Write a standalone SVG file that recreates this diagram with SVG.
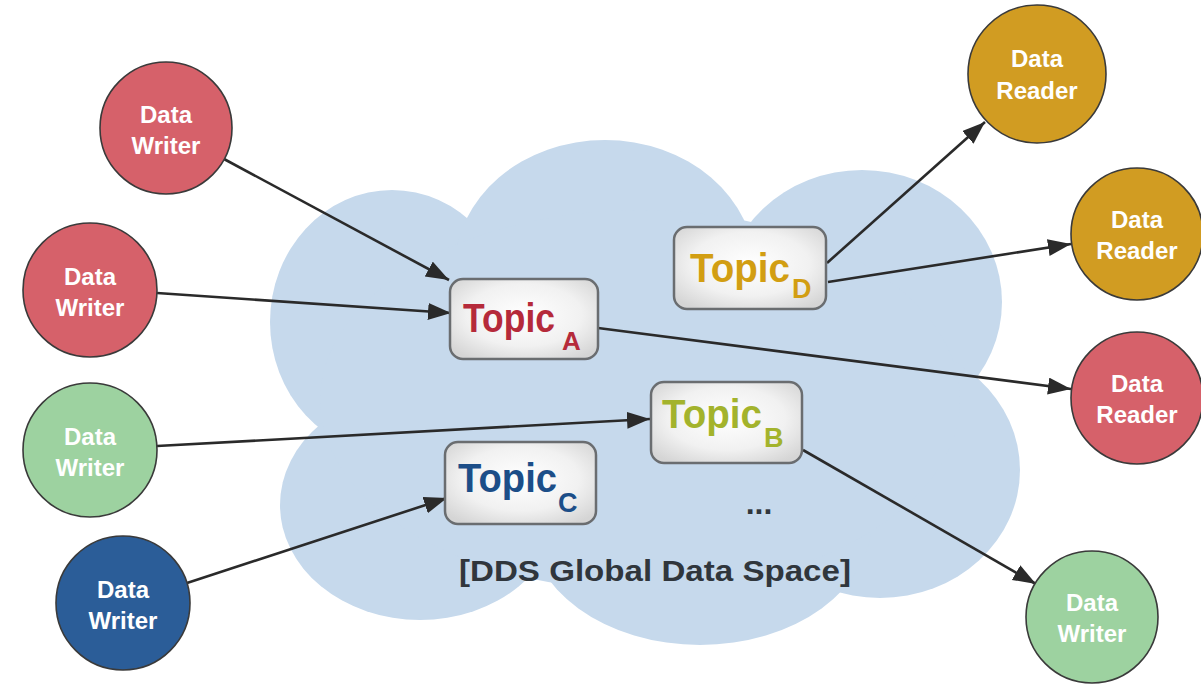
<svg xmlns="http://www.w3.org/2000/svg" width="1201" height="684" viewBox="0 0 1201 684">
<style>
.circ{stroke:#3a3a3a;stroke-width:1.6}
.red{fill:#d6616a}
.green{fill:#9dd2a0}
.blue{fill:#2b5d98}
.gold{fill:#d19c22}
.lbl{font-family:"Liberation Sans",Arial,sans-serif;font-weight:bold;font-size:24px;fill:#ffffff;text-anchor:middle}
.box{fill:url(#boxg);stroke:#6a6d70;stroke-width:2.5}
.tp{font-family:"Liberation Sans",Arial,sans-serif;font-weight:bold}
.conn{stroke:#2a2a2a;stroke-width:2.6;fill:none;marker-end:url(#ah)}
.cloud{fill:#c6d9ec}
</style>
<defs>
<radialGradient id="boxg" cx="50%" cy="45%" r="65%">
<stop offset="0" stop-color="#ffffff"/>
<stop offset="0.6" stop-color="#f1f1f1"/>
<stop offset="1" stop-color="#d5d5d5"/>
</radialGradient>
<marker id="ah" markerUnits="userSpaceOnUse" markerWidth="26" markerHeight="20" refX="23" refY="8.5" orient="auto">
<path d="M0,0 L23,8.5 L0,17 Z" fill="#2a2a2a"/>
</marker>
</defs>
<rect width="1201" height="684" fill="#ffffff"/>
<g id="cloud">
<ellipse class="cloud" cx="392" cy="322" rx="122" ry="132"/>
<ellipse class="cloud" cx="605" cy="268" rx="150" ry="128"/>
<ellipse class="cloud" cx="862" cy="302" rx="140" ry="132"/>
<ellipse class="cloud" cx="880" cy="470" rx="140" ry="128"/>
<ellipse class="cloud" cx="700" cy="520" rx="172" ry="125"/>
<ellipse class="cloud" cx="420" cy="505" rx="140" ry="115"/>
<ellipse class="cloud" cx="640" cy="400" rx="320" ry="190"/>
<text x="655" y="581" class="tp" font-size="29" fill="#30363c" text-anchor="middle" textLength="392" lengthAdjust="spacingAndGlyphs">[DDS Global Data Space]</text>
<text x="759" y="514" class="tp" font-size="32" fill="#30363c" text-anchor="middle">...</text>
</g>
<g id="connectors">
<line class="conn" x1="224" y1="159" x2="449" y2="280"/>
<line class="conn" x1="157" y1="293" x2="451" y2="313"/>
<line class="conn" x1="598" y1="328" x2="1071" y2="389"/>
<line class="conn" x1="157" y1="446" x2="650" y2="419"/>
<line class="conn" x1="187" y1="583" x2="447" y2="498"/>
<line class="conn" x1="827" y1="263" x2="985" y2="122"/>
<line class="conn" x1="828" y1="282" x2="1071" y2="244"/>
<line class="conn" x1="803" y1="450" x2="1036" y2="584"/>
</g>
<g id="topicA">
<rect class="box" x="450" y="279" width="148" height="80" rx="13"/>
<text class="tp" font-size="41" fill="#b52a3a"><tspan x="463" y="332" textLength="92" lengthAdjust="spacingAndGlyphs">Topic</tspan><tspan x="562" y="350" font-size="26">A</tspan></text>
</g>
<g id="topicD">
<rect class="box" x="674" y="227" width="152" height="82" rx="13"/>
<text class="tp" font-size="41" fill="#d29e12"><tspan x="690" y="282" textLength="100" lengthAdjust="spacingAndGlyphs">Topic</tspan><tspan x="792" y="298" font-size="27">D</tspan></text>
</g>
<g id="topicB">
<rect class="box" x="651" y="382" width="151" height="81" rx="13"/>
<text class="tp" font-size="41" fill="#a3b32c"><tspan x="662" y="428" textLength="100" lengthAdjust="spacingAndGlyphs">Topic</tspan><tspan x="764" y="447" font-size="27">B</tspan></text>
</g>
<g id="topicC">
<rect class="box" x="445" y="442" width="151" height="82" rx="13"/>
<text class="tp" font-size="41" fill="#1c4e88"><tspan x="458" y="492" textLength="99" lengthAdjust="spacingAndGlyphs">Topic</tspan><tspan x="558" y="512" font-size="27">C</tspan></text>
</g>
<g id="writer1">
<circle class="circ red" cx="166" cy="128" r="66"/>
<text class="lbl" x="166" y="123">Data</text><text class="lbl" x="166" y="154">Writer</text>
</g>
<g id="writer2">
<circle class="circ red" cx="90" cy="290" r="67"/>
<text class="lbl" x="90" y="285">Data</text><text class="lbl" x="90" y="316">Writer</text>
</g>
<g id="writer3">
<circle class="circ green" cx="90" cy="450" r="67"/>
<text class="lbl" x="90" y="445">Data</text><text class="lbl" x="90" y="476">Writer</text>
</g>
<g id="writer4">
<circle class="circ blue" cx="123" cy="603" r="67"/>
<text class="lbl" x="123" y="598">Data</text><text class="lbl" x="123" y="629">Writer</text>
</g>
<g id="reader1">
<circle class="circ gold" cx="1037" cy="74" r="69"/>
<text class="lbl" x="1037" y="67">Data</text><text class="lbl" x="1037" y="99">Reader</text>
</g>
<g id="reader2">
<circle class="circ gold" cx="1137" cy="234" r="66"/>
<text class="lbl" x="1137" y="228">Data</text><text class="lbl" x="1137" y="259">Reader</text>
</g>
<g id="reader3">
<circle class="circ red" cx="1137" cy="398" r="66"/>
<text class="lbl" x="1137" y="392">Data</text><text class="lbl" x="1137" y="423">Reader</text>
</g>
<g id="writer5">
<circle class="circ green" cx="1092" cy="617" r="66"/>
<text class="lbl" x="1092" y="611">Data</text><text class="lbl" x="1092" y="642">Writer</text>
</g>
</svg>
